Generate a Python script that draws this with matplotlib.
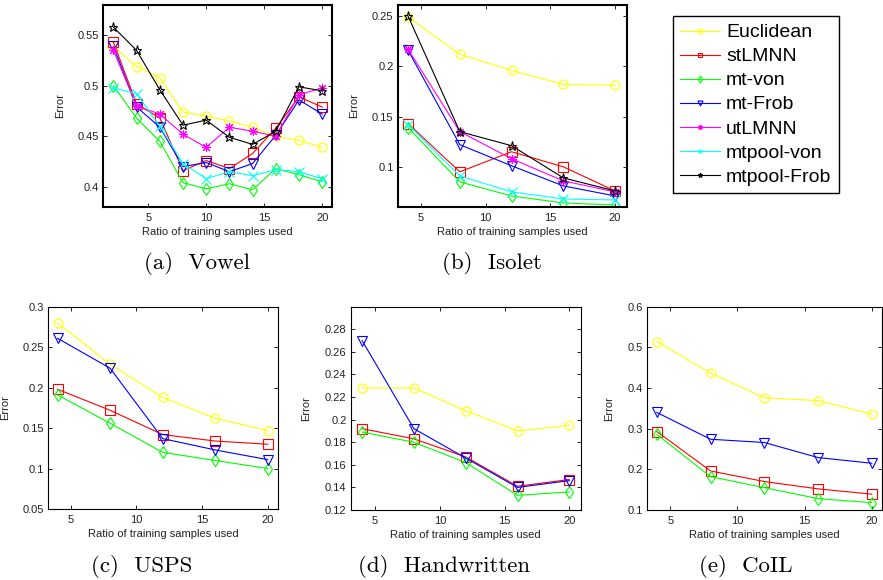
import matplotlib
matplotlib.use("Agg")
import matplotlib.pyplot as plt
from matplotlib.ticker import FuncFormatter

plt.rcParams['font.family'] = ['Liberation Sans', 'DejaVu Sans']

# ---------------- data ----------------
methods = ["Euclidean", "stLMNN", "mt-von", "mt-Frob", "utLMNN", "mtpool-von", "mtpool-Frob"]

x_vowel = [2, 4, 6, 8, 10, 12, 14, 16, 18, 20]
vowel_euclidean = [0.539, 0.519, 0.508, 0.474, 0.470, 0.465, 0.459, 0.450, 0.446, 0.439]
vowel_stlmnn = [0.543, 0.482, 0.468, 0.416, 0.426, 0.418, 0.433, 0.458, 0.489, 0.479]
vowel_mtvon = [0.500, 0.468, 0.445, 0.404, 0.398, 0.403, 0.397, 0.418, 0.412, 0.405]
vowel_mtfrob = [0.539, 0.479, 0.459, 0.420, 0.424, 0.415, 0.423, 0.451, 0.486, 0.472]
vowel_utlmnn = [0.535, 0.480, 0.472, 0.452, 0.439, 0.459, 0.455, 0.450, 0.491, 0.498]
vowel_poolvon = [0.498, 0.492, 0.460, 0.423, 0.408, 0.415, 0.411, 0.417, 0.415, 0.408]
vowel_poolfrob = [0.558, 0.535, 0.496, 0.461, 0.466, 0.449, 0.442, 0.455, 0.499, 0.495]

x_ratio = [4, 8, 12, 16, 20]
isolet_euclidean = [0.249, 0.212, 0.196, 0.182, 0.181]
isolet_stlmnn = [0.143, 0.095, 0.115, 0.100, 0.076]
isolet_mtvon = [0.139, 0.085, 0.071, 0.064, 0.062]
isolet_mtfrob = [0.216, 0.122, 0.101, 0.081, 0.071]
isolet_utlmnn = [0.217, 0.135, 0.108, 0.086, 0.075]
isolet_poolvon = [0.142, 0.091, 0.075, 0.068, 0.067]
isolet_poolfrob = [0.250, 0.135, 0.121, 0.089, 0.076]

usps_euclidean = [0.280, 0.229, 0.188, 0.162, 0.147]
usps_stlmnn = [0.198, 0.172, 0.142, 0.134, 0.130]
usps_mtvon = [0.191, 0.156, 0.120, 0.110, 0.100]
usps_mtfrob = [0.261, 0.224, 0.137, 0.123, 0.111]

hand_euclidean = [0.228, 0.228, 0.208, 0.190, 0.195]
hand_stlmnn = [0.192, 0.183, 0.167, 0.141, 0.147]
hand_mtvon = [0.189, 0.180, 0.162, 0.133, 0.136]
hand_mtfrob = [0.270, 0.192, 0.166, 0.140, 0.146]

coil_euclidean = [0.514, 0.437, 0.376, 0.369, 0.336]
coil_stlmnn = [0.293, 0.196, 0.170, 0.152, 0.139]
coil_mtvon = [0.286, 0.182, 0.155, 0.128, 0.118]
coil_mtfrob = [0.340, 0.274, 0.266, 0.229, 0.215]

captions = ["(a)  Vowel", "(b)  Isolet", "(c)  USPS", "(d)  Handwritten", "(e)  CoIL"]

# ---------------- styles ----------------
colors = ["#ffff00", "#ff0000", "#00ff00", "#0000ff", "#ff00ff", "#00ffff", "#000000"]
markers = ["o", "s", "d", "v", (8, 2, 0), "x", "*"]

W, H = 883, 580
fig = plt.figure(figsize=(W / 100, H / 100), dpi=100)


def make_ax(l, r, t, b):
    return fig.add_axes([l / W, 1 - b / H, (r - l) / W, (b - t) / H])


def style_ax(ax, xlim, ylim, yticks, spine_w, ylabel_x):
    ax.set_xlim(*xlim)
    ax.set_ylim(*ylim)
    ax.set_xticks([5, 10, 15, 20])
    ax.set_yticks(yticks)
    ax.yaxis.set_major_formatter(FuncFormatter(lambda v, p: "%g" % round(v, 4)))
    ax.tick_params(direction="in", top=True, right=True, length=3, width=0.6,
                   labelsize=8, labelcolor="#222222")
    ax.tick_params(axis="x", pad=4.5)
    ax.tick_params(axis="y", pad=3)
    for s in ax.spines.values():
        s.set_linewidth(spine_w)
    ax.set_xlabel("Ratio of training samples used", fontsize=8, labelpad=2.5, color="#222222")
    ax.set_ylabel("Error", fontsize=8, color="#222222")
    ax.yaxis.set_label_coords(ylabel_x, 0.5)


def plot_series(ax, x, series):
    handles = []
    for i, y in enumerate(series):
        h, = ax.plot(x, y, color=colors[i], marker=markers[i], markersize=6.5,
                     markerfacecolor="none", markeredgecolor=colors[i],
                     markeredgewidth=0.8, linewidth=0.8)
        handles.append(h)
    return handles


# (a) Vowel
ax_a = make_ax(103, 332, 5, 207)
handles = plot_series(ax_a, x_vowel, [vowel_euclidean, vowel_stlmnn, vowel_mtvon, vowel_mtfrob,
                                      vowel_utlmnn, vowel_poolvon, vowel_poolfrob])
style_ax(ax_a, (1.1, 20.85), (0.38, 0.58), [0.4, 0.45, 0.5, 0.55], 1.5, -0.166)

# (b) Isolet
ax_b = make_ax(397.7, 626.7, 5, 207)
plot_series(ax_b, x_ratio, [isolet_euclidean, isolet_stlmnn, isolet_mtvon, isolet_mtfrob,
                            isolet_utlmnn, isolet_poolvon, isolet_poolfrob])
style_ax(ax_b, (3.2, 20.9), (0.06, 0.261), [0.1, 0.15, 0.2, 0.25], 1.5, -0.169)

# (c) USPS
ax_c = make_ax(48.3, 278.3, 306.7, 509)
plot_series(ax_c, x_ratio, [usps_euclidean, usps_stlmnn, usps_mtvon, usps_mtfrob])
style_ax(ax_c, (3.3, 20.8), (0.05, 0.3), [0.05, 0.1, 0.15, 0.2, 0.25, 0.3], 0.8, -0.167)

# (d) Handwritten
ax_d = make_ax(350.7, 580.7, 306.7, 510)
plot_series(ax_d, x_ratio, [hand_euclidean, hand_stlmnn, hand_mtvon, hand_mtfrob])
style_ax(ax_d, (3.12, 20.88), (0.12, 0.3),
         [0.12, 0.14, 0.16, 0.18, 0.2, 0.22, 0.24, 0.26, 0.28], 0.8, -0.174)

# (e) CoIL
ax_e = make_ax(647, 881.7, 306.7, 510)
plot_series(ax_e, x_ratio, [coil_euclidean, coil_stlmnn, coil_mtvon, coil_mtfrob])
style_ax(ax_e, (3.27, 20.74), (0.1, 0.6), [0.1, 0.2, 0.3, 0.4, 0.5, 0.6], 0.8, -0.142)

# legend
leg = fig.legend(handles, methods, loc="upper left",
                 bbox_to_anchor=(672.7 / W, 1 - 16 / H), borderaxespad=0,
                 fontsize=14, markerscale=0.55, handlelength=2.05, handletextpad=0.3,
                 labelspacing=0.33, borderpad=0.4, fancybox=False, framealpha=1,
                 edgecolor="black")
leg.get_frame().set_linewidth(1.0)

# captions
cap_pos = [(197, 263), (491.5, 263), (141.7, 566), (444, 566), (746, 566)]
for (cx, cy), txt in zip(cap_pos, captions):
    fig.text(cx / W, 1 - cy / H, txt, ha="center", va="center", fontsize=16.5,
             family=["cmr10", "DejaVu Serif"])

fig.savefig("out.png", dpi=100)
